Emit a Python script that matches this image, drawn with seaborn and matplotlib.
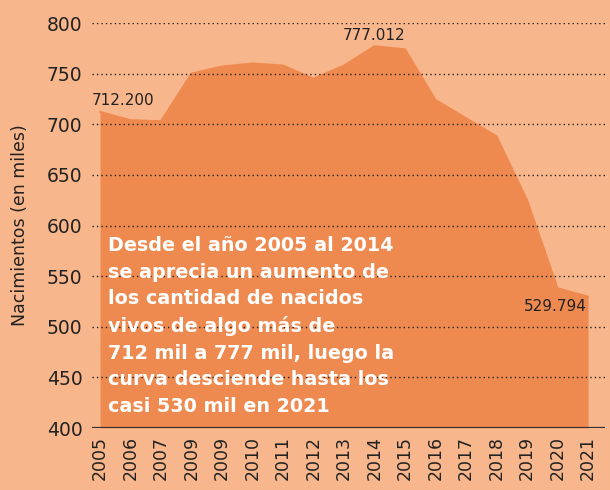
import seaborn as sns
import matplotlib.pyplot as plt
import numpy as np
import pandas as pd

# years as printed on the chart (the original repeats "2009")
year_labels = ['2005', '2006', '2007', '2009', '2009', '2010', '2011', '2012', '2013',
               '2014', '2015', '2016', '2017', '2018', '2019', '2020', '2021']
births = [712.2, 704, 703, 750, 757, 760, 758, 745, 758,
          777.012, 774, 724, 706, 688, 625, 538, 529.794]
yticks = [400, 450, 500, 550, 600, 650, 700, 750, 800]

bg = '#f8b68c'
fill = '#ee8a4f'

df = pd.DataFrame({'pos': np.arange(len(births)), 'births': births})

sns.set_style('white')
plt.rcParams['font.family'] = ['DejaVu Sans']

fig = plt.figure(figsize=(6.1, 4.9), dpi=100, facecolor=bg)
ax = fig.add_axes([0.151, 0.1265, 0.841, 0.8265])
ax.set_facecolor(bg)

ax.fill_between(df['pos'], 400, df['births'], color=fill, lw=0, zorder=1)
sns.lineplot(data=df, x='pos', y='births', ax=ax, color=fill, lw=1.5, zorder=1)

for v in yticks[1:]:
    ax.axhline(v, color='#222222', lw=1.0, ls=(0, (1, 2.2)), zorder=2)
ax.axhline(400, color='#333333', lw=1.6, zorder=3)

ax.set_xlim(-0.26, 16.56)
ax.set_ylim(400, 800)
ax.set_yticks(yticks)
ax.set_yticklabels([str(v) for v in yticks], fontsize=13.5, color='#222222')
ax.set_xticks(df['pos'])
ax.set_xticklabels(year_labels, rotation=90, fontsize=12.5, color='#222222')
ax.tick_params(axis='y', length=0, pad=7)
ax.tick_params(axis='x', length=0, pad=6)
ax.set_xlabel('')
ax.set_ylabel('Nacimientos (en miles)', fontsize=12.5, color='#222222', labelpad=13)
for s in ax.spines.values():
    s.set_visible(False)

ax.text(-0.28, 716, '712.200', fontsize=11, color='#222222', ha='left', va='bottom')
ax.text(7.95, 780, '777.012', fontsize=11, color='#222222', ha='left', va='bottom')
ax.text(13.9, 520, '529.794', fontsize=11, color='#222222', ha='left', va='center')

note = ('Desde el año 2005 al 2014\nse aprecia un aumento de\nlos cantidad de nacidos\n'
        'vivos de algo más de\n712 mil a 777 mil, luego la\ncurva desciende hasta los\n'
        'casi 530 mil en 2021')
ax.text(0.26, 412, note, fontsize=13.8, fontweight='bold', color='white',
        ha='left', va='bottom', linespacing=1.5, zorder=4)

fig.savefig('out.png', dpi=100, facecolor=bg)
